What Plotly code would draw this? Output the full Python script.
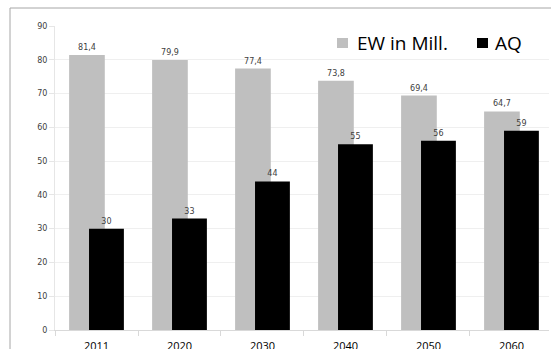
import plotly.graph_objects as go

years = ["2011", "2020", "2030", "2040", "2050", "2060"]
ew_mill = [81.4, 79.9, 77.4, 73.8, 69.4, 64.7]
aq = [30, 33, 44, 55, 56, 59]
series_names = ["EW in Mill.", "AQ"]

ew_labels = [f"{v:.1f}".replace(".", ",") for v in ew_mill]
aq_labels = [str(v) for v in aq]

GREY = "#bfbfbf"
BLACK = "#000000"

fig = go.Figure()
fig.add_trace(go.Bar(
    x=years, y=ew_mill, name=series_names[0],
    marker=dict(color=GREY, line=dict(width=0)),
    width=0.43, offset=-0.33,
    text=ew_labels, textposition="outside",
    textfont=dict(family="DejaVu Sans", size=8, color="#404040"),
    cliponaxis=False,
))
fig.add_trace(go.Bar(
    x=years, y=aq, name=series_names[1],
    marker=dict(color=BLACK, line=dict(width=0)),
    width=0.42, offset=-0.09,
    text=aq_labels, textposition="outside",
    textfont=dict(family="DejaVu Sans", size=8, color="#404040"),
    cliponaxis=False,
))

PW = 494  # plot area width in px
PH = 304  # plot area height in px
L, T = 55, 26


def px(x):
    return (x - L) / PW


def py(y):
    return 1 + (T - y) / PH


# legend drawn as swatch + label pairs, top right inside the plot
legend_items = [(series_names[0], GREY, 337, 356), (series_names[1], BLACK, 477, 494)]
shapes = [
    dict(type="line", xref="paper", yref="paper",
         x0=px(10), x1=px(551), y0=py(8), y1=py(8),
         line=dict(color="#a6a6a6", width=1)),
    dict(type="line", xref="paper", yref="paper",
         x0=px(10), x1=px(10), y0=py(8), y1=py(349),
         line=dict(color="#a6a6a6", width=1)),
]
annotations = []
for name, color, sx, tx in legend_items:
    shapes.append(dict(type="rect", xref="paper", yref="paper",
                       x0=px(sx), x1=px(sx + 11), y0=py(48), y1=py(38),
                       fillcolor=color, line=dict(width=0)))
    annotations.append(dict(text=name, xref="paper", yref="paper",
                            x=px(tx), y=py(43), xanchor="left", yanchor="middle",
                            showarrow=False, borderpad=0,
                            font=dict(family="Open Sans", size=19, color="#000000")))

fig.update_layout(
    width=551, height=349,
    barmode="overlay",
    plot_bgcolor="white", paper_bgcolor="white",
    margin=dict(l=L, r=2, t=T, b=19, autoexpand=False),
    showlegend=False,
    xaxis=dict(
        type="category", range=[-0.5, 5.452], automargin=False,
        showline=True, linecolor="#d9d9d9", linewidth=1,
        ticks="outside", tickson="boundaries", ticklen=5, tickcolor="#d9d9d9",
        showgrid=False, ticklabelstandoff=6,
        tickfont=dict(family="Open Sans", size=11, color="#000000"),
    ),
    yaxis=dict(
        range=[0, 90], dtick=10, automargin=False,
        showline=True, linecolor="#e6e6e6", linewidth=1,
        ticks="outside", ticklen=5, tickcolor="#e6e6e6",
        showgrid=True, gridcolor="#efefef", gridwidth=1,
        zeroline=False,
        tickfont=dict(family="DejaVu Sans", size=8, color="#404040"),
    ),
    shapes=shapes,
    annotations=annotations,
)

fig.write_html("out.html", config={"displayModeBar": False})
